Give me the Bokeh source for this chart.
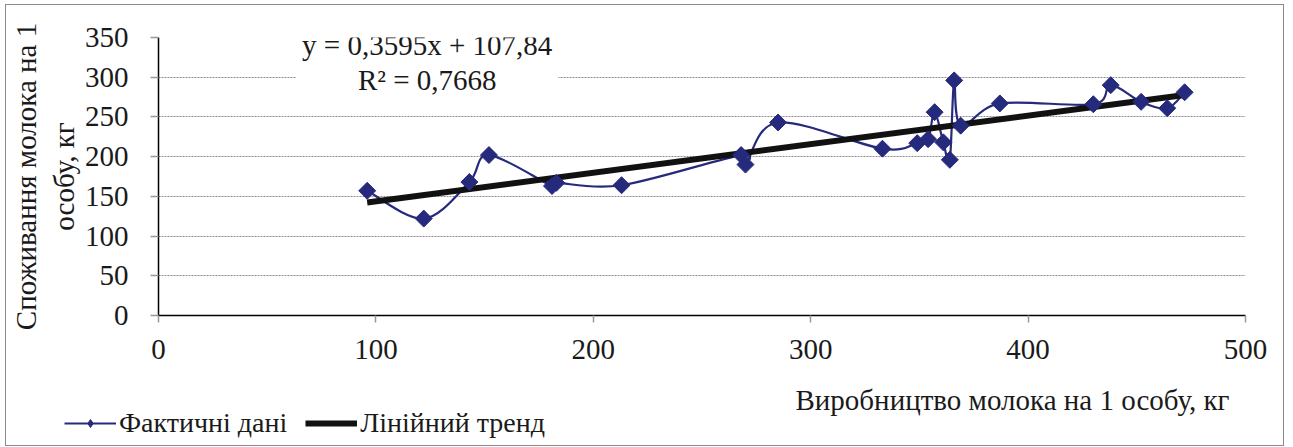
import numpy as np
from bokeh.plotting import figure
from bokeh.layouts import column
from bokeh.models import Label, Legend, LegendItem, Range1d, FixedTicker, ColumnDataSource
from bokeh.embed import file_html
from bokeh.resources import INLINE

# ---- data ----
production = [96, 122, 143, 152, 181, 183, 213, 268, 270, 285, 333, 349, 354, 357,
              361, 364, 366, 369, 387, 430, 438, 452, 464, 472]
consumption = [157, 122, 168, 202, 163, 167, 164, 202, 190, 243, 210, 217, 222, 256,
               218, 196, 296, 239, 267, 266, 290, 269, 261, 281]
trend_slope = 0.3595
trend_intercept = 107.84
equation_text = "y = 0,3595x + 107,84\nR² = 0,7668"
x_title = "Виробництво молока на 1 особу, кг"
y_title = "Споживання молока на 1\nособу, кг"
series_name = "Фактичні дані"
trend_name = "Лінійний тренд"
x_ticks = [0, 100, 200, 300, 400, 500]
y_ticks = [0, 50, 100, 150, 200, 250, 300, 350]

FONT = "'Liberation Serif', 'Times New Roman', serif"
FS = "29px"
BLUE = "#252A7C"
TXT = "#1a1a1a"
W = 1277
H1 = 368
H2 = 72

p = figure(width=W, height=H1, output_backend="svg", toolbar_location=None,
           x_range=Range1d(0, 500), y_range=Range1d(0, 350),
           min_border_left=141, min_border_right=38, min_border_top=32, min_border_bottom=58)
p.outline_line_color = None
p.background_fill_color = "white"
p.border_fill_color = "white"

for ax in (p.xaxis[0], p.yaxis[0]):
    ax.axis_line_color = "black"
    ax.axis_line_width = 1.5
    ax.major_tick_line_color = "#999999"
    ax.major_tick_line_width = 1.5
    ax.minor_tick_line_color = None
    ax.major_tick_in = 0
    ax.major_label_text_font = FONT
    ax.major_label_text_font_size = FS
    ax.major_label_text_color = TXT
p.xaxis[0].ticker = FixedTicker(ticks=x_ticks)
p.yaxis[0].ticker = FixedTicker(ticks=y_ticks)
p.xaxis[0].major_tick_out = 7
p.yaxis[0].major_tick_out = 8
p.xaxis[0].major_label_standoff = 17
p.yaxis[0].major_label_standoff = 22
p.yaxis[0].axis_label = y_title
p.yaxis[0].axis_label_text_font = FONT
p.yaxis[0].axis_label_text_font_size = FS
p.yaxis[0].axis_label_text_font_style = "normal"
p.yaxis[0].axis_label_text_color = TXT
p.yaxis[0].axis_label_standoff = 2

p.xgrid.grid_line_color = None
p.ygrid.grid_line_color = "#8c8c8c"
p.ygrid.grid_line_dash = "2 1"
p.ygrid.grid_line_width = 1

# smoothed curve (Catmull-Rom -> cubic Bezier) built from the data points
xs = np.array(production, dtype=float)
ys = np.array(consumption, dtype=float)
n = len(xs)
px = np.concatenate([[xs[0]], xs, [xs[-1]]])
py = np.concatenate([[ys[0]], ys, [ys[-1]]])
x0 = xs[:-1]; y0 = ys[:-1]; x1 = xs[1:]; y1 = ys[1:]
cx0 = x0 + (px[2:n + 1] - px[0:n - 1]) / 6.0
cy0 = y0 + (py[2:n + 1] - py[0:n - 1]) / 6.0
cx1 = x1 - (px[3:n + 2] - px[1:n]) / 6.0
cy1 = y1 - (py[3:n + 2] - py[1:n]) / 6.0
bsrc = ColumnDataSource(dict(x0=x0, y0=y0, x1=x1, y1=y1, cx0=cx0, cy0=cy0, cx1=cx1, cy1=cy1))
p.bezier(x0="x0", y0="y0", x1="x1", y1="y1", cx0="cx0", cy0="cy0", cx1="cx1", cy1="cy1",
         source=bsrc, line_color=BLUE, line_width=2.2)

# linear trend
tx = [min(production), max(production)]
ty = [trend_slope * v + trend_intercept for v in tx]
trend = p.line(tx, ty, line_color="#111111", line_width=6)

pts = p.scatter(production, consumption, marker="square", angle=np.pi / 4, size=12,
                fill_color=BLUE, line_color=BLUE)

p.add_layout(Label(x=123.6, y=319, text=equation_text, text_align="center",
                   text_baseline="middle", text_font=FONT, text_font_size=FS,
                   text_color=TXT, background_fill_color="white",
                   padding=6, text_line_height=1.1))

# bottom strip: x-axis title and legend
q = figure(width=W, height=H2, output_backend="svg", toolbar_location=None,
           x_range=Range1d(0, W), y_range=Range1d(0, H2),
           x_axis_location=None, y_axis_location=None,
           min_border_left=0, min_border_right=0, min_border_top=0, min_border_bottom=0)
q.outline_line_color = None
q.xgrid.grid_line_color = None
q.ygrid.grid_line_color = None
q.add_layout(Label(x=1006, y=46, text=x_title, text_align="center", text_baseline="middle",
                   text_font=FONT, text_font_size=FS, text_color=TXT))

# legend key renderers (one hidden point each, outside the visible range)
leg_line = q.line([-9999, -9998], [-9999, -9999], line_color=BLUE, line_width=2.2)
leg_pts = q.scatter([-9999], [-9999], marker="diamond", size=20,
                    fill_color=BLUE, line_color=BLUE)
leg_trend = q.line([-9999, -9998], [-9999, -9999], line_color="#111111", line_width=6)
legend = Legend(items=[LegendItem(label=series_name, renderers=[leg_line, leg_pts]),
                       LegendItem(label=trend_name, renderers=[leg_trend])],
                orientation="horizontal", location=(58, 6),
                label_text_font=FONT, label_text_font_size="28px", label_text_color=TXT,
                glyph_width=52, glyph_height=20, label_standoff=3, spacing=18,
                padding=0, margin=0, border_line_color=None, background_fill_alpha=0)
q.add_layout(legend, "center")

layout = column(p, column(q), spacing=0)
layout.styles = {"border": "1px solid #8a8a8a", "margin-left": "5px", "margin-top": "4px"}

open("out.html", "w").write(file_html(layout, INLINE))
